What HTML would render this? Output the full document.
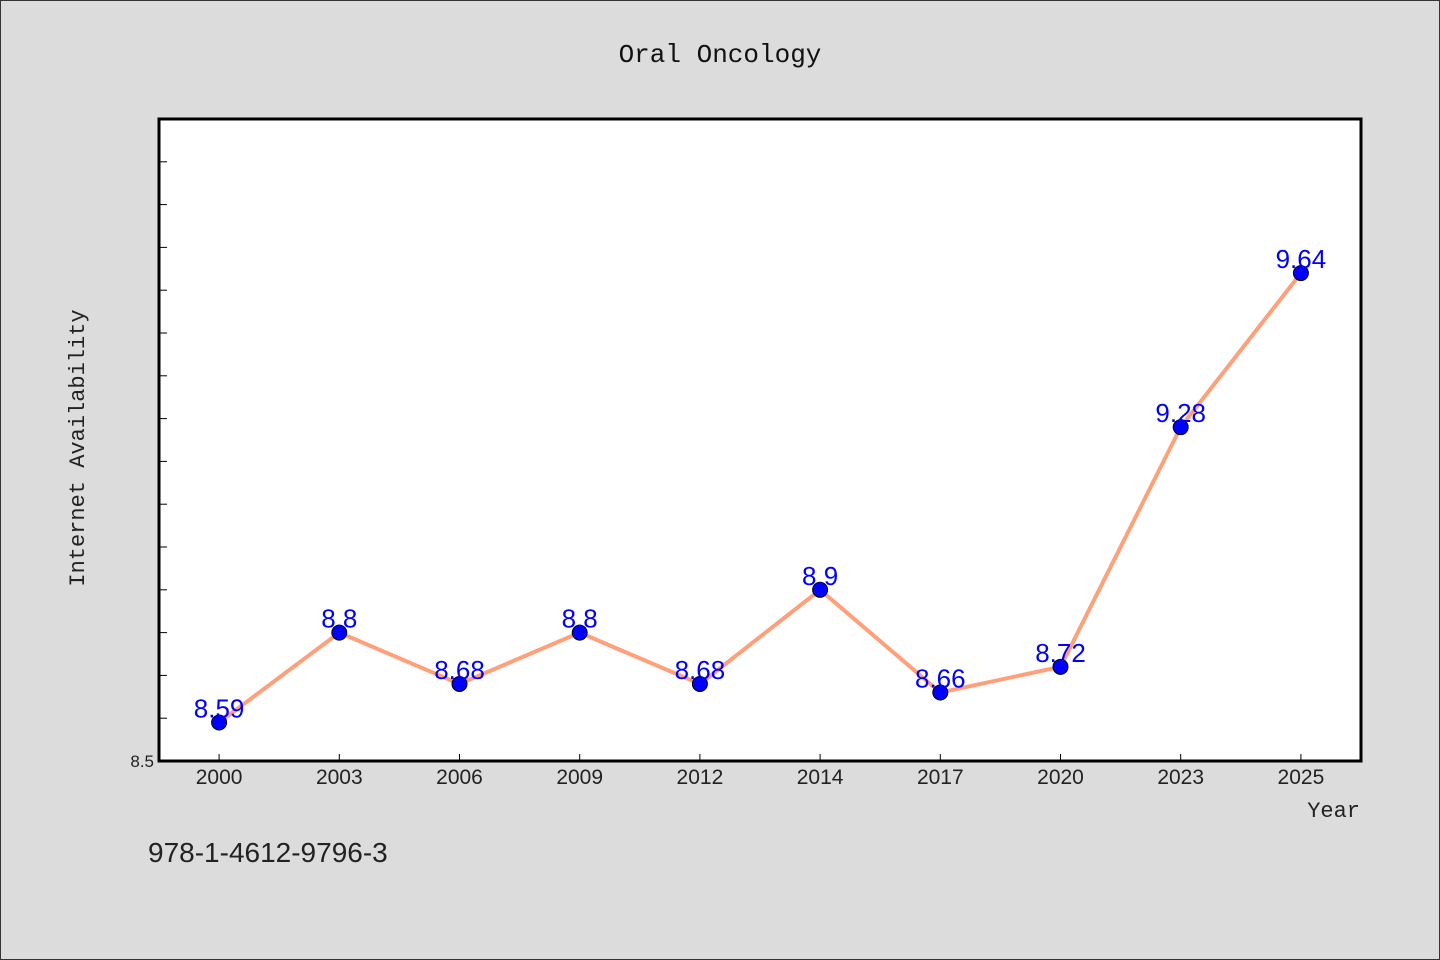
<!DOCTYPE html>
<html><head><meta charset="utf-8"><style>
body{margin:0;background:#dcdcdc;}
svg{display:block;}
</style></head><body>
<svg width="1440" height="960" xmlns="http://www.w3.org/2000/svg">
<rect x="0.5" y="0.5" width="1439" height="959" fill="#dcdcdc" stroke="#333"/>
<text x="720" y="62" text-anchor="middle" font-family="'Liberation Mono', monospace" font-size="26" fill="#111">Oral Oncology</text>
<rect x="159" y="119" width="1202" height="642" fill="#fff"/>
<g id="ticks"></g>
<g id="marks"></g>
<rect x="159" y="119" width="1202" height="642" fill="none" stroke="#000" stroke-width="3"/>
<text transform="translate(84,448) rotate(-90)" text-anchor="middle" font-family="'Liberation Mono', monospace" font-size="22" fill="#222">Internet Availability</text>
<text x="1360" y="817" text-anchor="end" font-family="'Liberation Mono', monospace" font-size="22" fill="#222">Year</text>
<text x="148" y="862" font-family="'Liberation Sans', sans-serif" font-size="28" fill="#222">978-1-4612-9796-3</text>
</svg>
<script>
const categories = ["2000","2003","2006","2009","2012","2014","2017","2020","2023","2025"];
const values = [8.59,8.8,8.68,8.8,8.68,8.9,8.66,8.72,9.28,9.64];
const yTickLabels = ["8.5"];
const yMin = 8.5, yMax = 10.0;
const L=159,R=1361,T=119,B=761;
const band=(R-L)/categories.length;
function xs(i){return L+band*(i+0.5);}
function ys(v){return B-(v-yMin)/(yMax-yMin)*(B-T);}
const NS="http://www.w3.org/2000/svg";
function mk(tag,attrs,parent){const e=document.createElementNS(NS,tag);for(const k in attrs)e.setAttribute(k,attrs[k]);parent.appendChild(e);return e;}
const tg=document.getElementById('ticks'), mg=document.getElementById('marks');
for(let k=1;k<15;k++){
  const v=yMin+k*0.1;
  const t=mk('line',{x1:L,x2:L+8,y1:ys(v),y2:ys(v),stroke:'#000','stroke-width':1},tg);
  
  
}
yTickLabels.forEach(s=>{
  const t=mk('text',{x:L-5,y:ys(parseFloat(s))+6,'text-anchor':'end','font-family':"'Liberation Sans', sans-serif",'font-size':17,fill:'#222'},tg);
  t.textContent=s;
  
  
});
categories.forEach((c,i)=>{
  const t=mk('line',{x1:xs(i),x2:xs(i),y1:B,y2:B-7,stroke:'#000','stroke-width':1},tg);
  
  
  const l=mk('text',{x:xs(i),y:B+23,'text-anchor':'middle','font-family':"'Liberation Sans', sans-serif",'font-size':21,fill:'#222'},tg);
  l.textContent=c;
  
  
});
const line=mk('polyline',{points:values.map((v,i)=>xs(i)+','+ys(v)).join(' '),fill:'none',stroke:'#ffa07a','stroke-width':4,'stroke-linejoin':'round'},mg);


values.forEach((v,i)=>{
  const c=mk('circle',{cx:xs(i),cy:ys(v),r:7.5,fill:'#0000ff',stroke:'#000','stroke-width':1},mg);
  
  
  const t=mk('text',{x:xs(i),y:ys(v)-5,'text-anchor':'middle','font-family':"'Liberation Sans', sans-serif",'font-size':26,fill:'#0000ff'},mg);
  t.textContent=String(v);
  
  
});
</script>
</body></html>
